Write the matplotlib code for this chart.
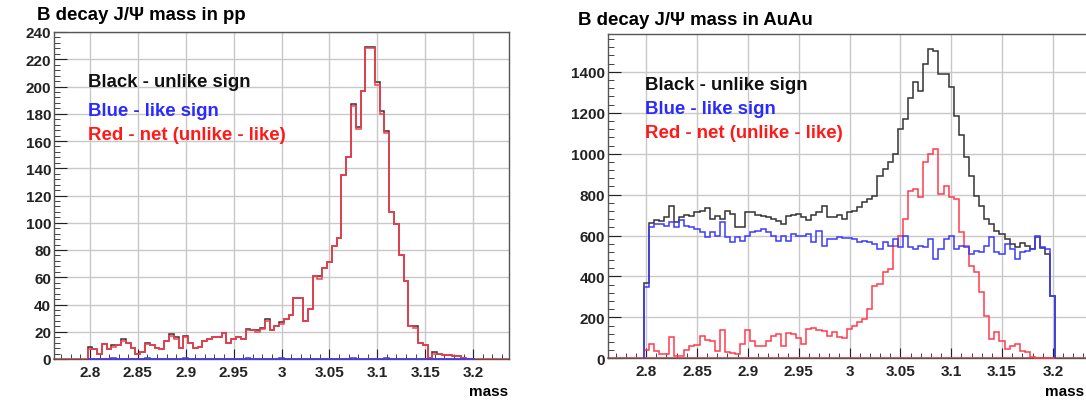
import numpy as np
import matplotlib.pyplot as plt
from matplotlib.ticker import MultipleLocator

plt.rcParams['font.family'] = ['Liberation Sans', 'DejaVu Sans']
plt.rcParams['font.weight'] = 'bold'

# binning of the mass histograms (bins centred on 2.800 ... 3.200)
bin_lo = 2.7975
bin_w = 0.005
x_lo, x_hi = 2.7625, 3.2375
xticks = [2.8, 2.85, 2.9, 2.95, 3.0, 3.05, 3.1, 3.15, 3.2]

# p+p : counts per bin
pp_unlike = [9, 7, 4, 11, 7, 10, 10, 15, 12, 8,
             4, 5, 12, 10, 8, 7, 13, 18, 16, 8,
             17, 12, 8, 9, 13, 15, 16, 16, 19, 12,
             15, 16, 15, 22, 21, 21, 23, 29, 21, 24,
             27, 29, 32, 45, 45, 28, 37, 61, 61, 67,
             71, 83, 89, 135, 148, 187, 170, 197, 229, 229,
             203, 182, 167, 108, 99, 76, 57, 24, 24, 12,
             10, 1, 5, 4, 3, 3, 2, 2, 1, 0, 0]
pp_like = [0, 0, 0, 0, 0, 1, 0, 0, 0, 0,
           0, 0, 1, 0, 0, 0, 0, 0, 0, 0,
           1, 0, 0, 0, 0, 0, 0, 0, 0, 0,
           0, 0, 0, 1, 0, 0, 0, 0, 0, 0,
           1, 0, 0, 0, 0, 0, 0, 0, 0, 0,
           0, 0, 0, 0, 0, 1, 0, 0, 0, 0,
           0, 0, 1, 0, 0, 0, 0, 0, 0, 0,
           0, 0, 0, 0, 0, 0, 0, 0, 0, 0, 0]
pp_net = [7, 7, 4, 11, 7, 9, 10, 13, 12, 8,
          4, 5, 11, 10, 8, 7, 13, 17, 15, 8,
          16, 12, 8, 9, 13, 15, 16, 16, 19, 12,
          15, 16, 15, 21, 21, 20, 22, 28, 21, 24,
          26, 29, 32, 45, 45, 28, 37, 61, 59, 67,
          71, 83, 89, 135, 148, 186, 169, 197, 228, 228,
          201, 180, 166, 108, 99, 76, 57, 24, 23, 12,
          10, 1, 4, 4, 3, 3, 2, 2, 1, 0, 0]

# Au+Au : counts per bin
auau_unlike = [370, 660, 675, 670, 690, 745, 665, 690, 700, 695,
               715, 720, 735, 680, 695, 680, 720, 705, 640, 640,
               715, 715, 700, 695, 690, 680, 670, 655, 695, 700,
               705, 690, 675, 700, 715, 745, 690, 690, 700, 680,
               715, 722, 740, 762, 779, 795, 893, 925, 958, 1000,
               1121, 1170, 1270, 1350, 1308, 1439, 1512, 1504, 1390, 1390,
               1325, 1186, 1089, 982, 893, 795, 746, 681, 656, 624,
               608, 583, 559, 543, 564, 551, 534, 591, 538, 510, 306]
auau_like = [350, 640, 657, 657, 648, 665, 640, 678, 648, 640,
             632, 616, 591, 616, 600, 665, 591, 570, 591, 575,
             600, 616, 620, 632, 616, 600, 575, 600, 575, 608,
             600, 600, 608, 567, 620, 551, 583, 583, 591, 590,
             586, 583, 566, 575, 566, 559, 534, 566, 551, 583,
             543, 599, 543, 534, 551, 543, 583, 486, 534, 583,
             599, 534, 551, 543, 510, 526, 518, 551, 591, 518,
             510, 559, 534, 486, 518, 526, 534, 599, 543, 534, 306]
auau_net = [40, 70, 38, 22, 22, 102, 12, 10, 40, 62,
            65, 110, 88, 86, 35, 140, 30, 25, 20, 70,
            140, 85, 60, 62, 85, 110, 120, 60, 125, 120,
            100, 70, 145, 150, 140, 135, 110, 127, 105, 100,
            143, 159, 176, 192, 241, 355, 363, 420, 436, 551,
            599, 681, 820, 828, 787, 958, 999, 1023, 803, 844,
            787, 779, 615, 551, 453, 420, 322, 208, 94, 127,
            86, 45, 62, 70, 37, 29, 5, 0, 0, 0, 0]

c_black = '#333333'
c_blue = '#3a3aff'
c_red = '#ff3a4a'

fig = plt.figure(figsize=(10.86, 4.02), dpi=100)
ax1 = fig.add_axes([54 / 1086, 42 / 402, 455 / 1086, 327 / 402])
ax2 = fig.add_axes([608 / 1086, 42.7 / 402, 483 / 1086, 324.3 / 402])


def draw(ax, unlike, like, net, ymax, ystep, yminor):
    edges = bin_lo + bin_w * np.arange(len(net) + 1)
    ax.plot([x_lo, x_hi], [0, 0], color=c_red, lw=1.2, clip_on=False, zorder=2)
    ax.stairs(unlike, edges, baseline=0, color=c_black, lw=1.1, clip_on=False, zorder=3)
    ax.stairs(net, edges, baseline=0, color=c_red, lw=1.1, clip_on=False, zorder=4)
    ax.stairs(like, edges, baseline=0, color=c_blue, lw=1.1, clip_on=False, zorder=5)
    ax.set_xlim(x_lo, x_hi)
    ax.set_ylim(0, ymax)
    ax.set_xticks(xticks, labels=['%g' % t for t in xticks])
    ax.xaxis.set_minor_locator(MultipleLocator(0.01))
    ax.set_yticks(np.arange(0, ymax + 1, ystep))
    ax.yaxis.set_minor_locator(MultipleLocator(yminor))
    ax.grid(True, which='major', color='#c8c8c8', lw=1.0)
    ax.set_axisbelow(True)
    ax.tick_params(which='both', direction='in', top=False, right=False,
                   colors='#222222', labelsize=11)
    ax.tick_params(axis='y', which='major', length=9, pad=2)
    ax.tick_params(axis='y', which='minor', length=4.5)
    ax.tick_params(axis='x', which='major', length=7, pad=4)
    ax.tick_params(axis='x', which='minor', length=3.5)
    for lab in ax.get_xticklabels() + ax.get_yticklabels():
        lab.set_fontweight('bold')
    for s in ax.spines.values():
        s.set_color('#555555')
        s.set_linewidth(1.0)


draw(ax1, pp_unlike, pp_like, pp_net, 240, 20, 4)
draw(ax2, auau_unlike, auau_like, auau_net, 1585, 200, 40)

W, H = 1086, 402
fs = 13.4
fig.text(37 / W, 1 - 20 / H, 'B decay J/\u03a8 mass in pp', fontsize=fs, fontweight='bold')
fig.text(578 / W, 1 - 25 / H, 'B decay J/\u03a8 mass in AuAu', fontsize=fs, fontweight='bold')

for x0, ys in [(88, (87, 116.5, 140.5)), (645, (90, 114, 137.5))]:
    fig.text(x0 / W, 1 - ys[0] / H, 'Black - unlike sign', fontsize=fs, fontweight='bold', color='#111111')
    fig.text(x0 / W, 1 - ys[1] / H, 'Blue - like sign', fontsize=fs, fontweight='bold', color='#2a2aff')
    fig.text(x0 / W, 1 - ys[2] / H, 'Red - net (unlike - like)', fontsize=fs, fontweight='bold', color='#ff1a1a')

fig.text(508 / W, 1 - 396 / H, 'mass', fontsize=11, fontweight='bold', ha='right')
fig.text(1084 / W, 1 - 396 / H, 'mass', fontsize=11, fontweight='bold', ha='right')

fig.savefig('out.png', dpi=100)
